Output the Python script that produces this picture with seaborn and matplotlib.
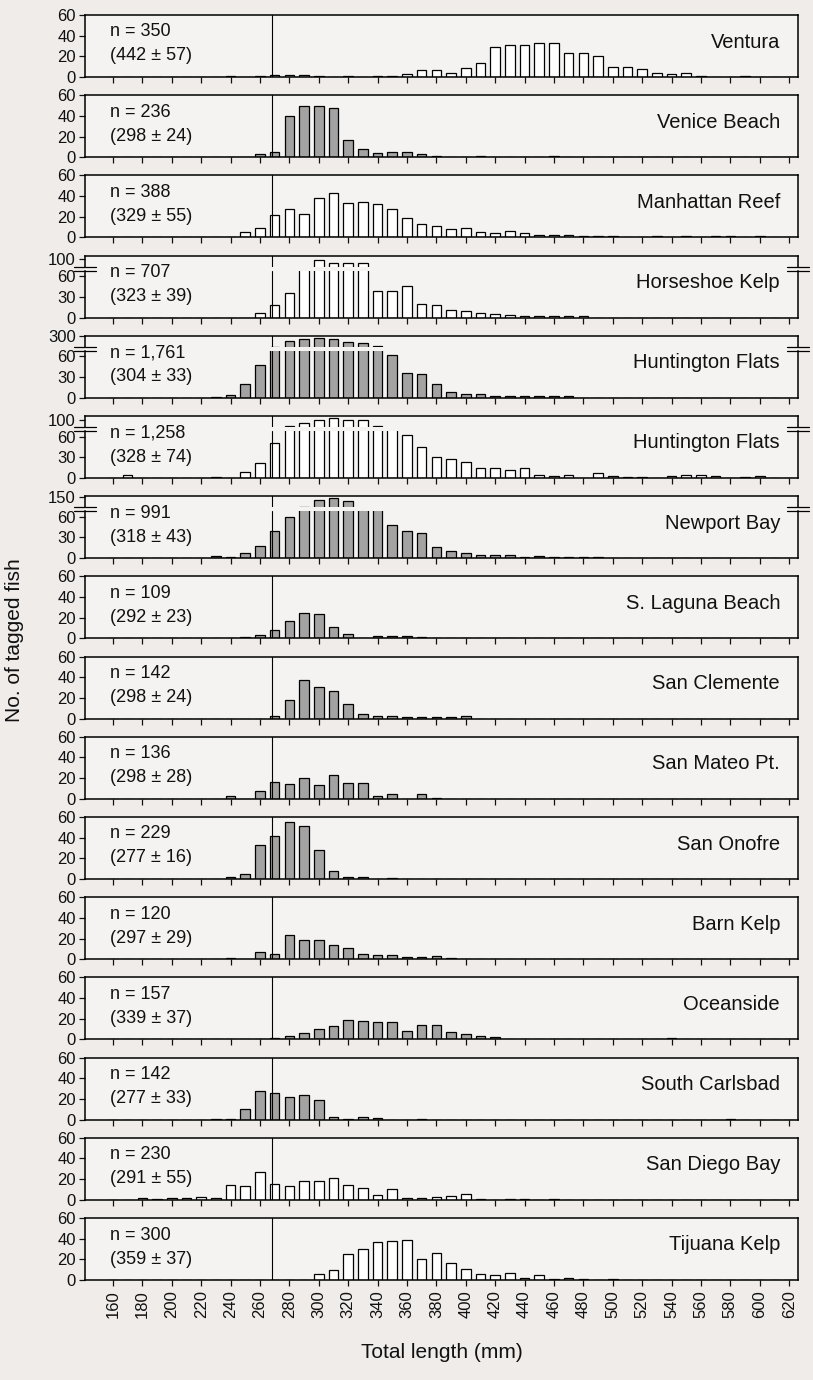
import numpy as np
import pandas as pd
import matplotlib
matplotlib.use("Agg")
import matplotlib.pyplot as plt
from matplotlib.lines import Line2D
from matplotlib.patches import Rectangle
import seaborn as sns

# ---------------- data (bin centres in mm, counts) ----------------
ventura_mm = [240, 260, 270, 280, 290, 300, 320, 340, 350, 360, 370, 380, 390, 400, 410,
              420, 430, 440, 450, 460, 470, 480, 490, 500, 510, 520, 530, 540, 550, 560, 590]
ventura_n = [1, 1, 2, 2, 2, 1, 1, 1, 1, 3, 7, 7, 4, 9, 14,
             29, 31, 31, 33, 33, 23, 23, 20, 10, 10, 8, 4, 3, 4, 1, 1]

venice_mm = [260, 270, 280, 290, 300, 310, 320, 330, 340, 350, 360, 370, 380, 410, 460]
venice_n = [3, 5, 40, 50, 50, 48, 17, 8, 4, 5, 5, 3, 1, 1, 1]

manhattan_mm = [250, 260, 270, 280, 290, 300, 310, 320, 330, 340, 350, 360, 370, 380, 390, 400,
                410, 420, 430, 440, 450, 460, 470, 480, 490, 500, 530, 550, 570, 580, 600]
manhattan_n = [5, 9, 22, 27, 23, 38, 43, 33, 34, 32, 27, 19, 13, 11, 8, 9,
               5, 4, 6, 4, 2, 2, 2, 1, 1, 1, 1, 1, 1, 1, 1]

horseshoe_mm = [260, 270, 280, 290, 300, 310, 320, 330, 340, 350, 360, 370, 380, 390, 400,
                410, 420, 430, 440, 450, 460, 470, 480]
horseshoe_n = [6, 18, 36, 75, 99, 94, 94, 94, 38, 38, 45, 20, 18, 11, 9,
               6, 5, 4, 3, 3, 2, 2, 2]

huntington1_mm = [230, 240, 250, 260, 270, 280, 290, 300, 310, 320, 330, 340, 350, 360, 370,
                  380, 390, 400, 410, 420, 430, 440, 450, 460, 470]
huntington1_n = [1, 4, 20, 47, 105, 200, 250, 265, 250, 185, 170, 108, 62, 36, 34,
                 20, 8, 6, 6, 3, 2, 2, 3, 2, 2]

huntington2_mm = [170, 230, 250, 260, 270, 280, 290, 300, 310, 320, 330, 340, 350, 360, 370,
                  380, 390, 400, 410, 420, 430, 440, 450, 460, 470, 490, 500, 510, 520,
                  540, 550, 560, 570, 590, 600]
huntington2_n = [5, 1, 8, 22, 50, 84, 92, 100, 106, 100, 100, 84, 75, 62, 45,
                 30, 27, 23, 15, 14, 12, 15, 4, 3, 4, 7, 3, 2, 1,
                 3, 4, 4, 3, 2, 3]

newport_mm = [220, 230, 240, 250, 260, 270, 280, 290, 300, 310, 320, 330, 340, 350, 360,
              370, 380, 390, 400, 410, 420, 430, 440, 450, 460, 470, 480, 490, 520]
newport_n = [1, 3, 2, 8, 18, 40, 60, 83, 127, 145, 121, 74, 72, 48, 40,
             36, 16, 11, 8, 4, 4, 4, 2, 3, 2, 2, 2, 2, 1]

slaguna_mm = [250, 260, 270, 280, 290, 300, 310, 320, 340, 350, 360, 370]
slaguna_n = [1, 3, 8, 17, 25, 24, 11, 4, 2, 2, 2, 1]

sanclemente_mm = [270, 280, 290, 300, 310, 320, 330, 340, 350, 360, 370, 380, 390, 400]
sanclemente_n = [3, 18, 37, 31, 27, 14, 4, 3, 3, 2, 2, 2, 2, 3]

sanmateo_mm = [240, 260, 270, 280, 290, 300, 310, 320, 330, 340, 350, 370, 380]
sanmateo_n = [3, 8, 16, 14, 20, 13, 23, 15, 15, 3, 5, 5, 1]

sanonofre_mm = [240, 250, 260, 270, 280, 290, 300, 310, 320, 330, 350]
sanonofre_n = [2, 5, 33, 42, 55, 51, 28, 8, 2, 2, 1]

barn_mm = [240, 260, 270, 280, 290, 300, 310, 320, 330, 340, 350, 360, 370, 380, 390]
barn_n = [1, 7, 5, 23, 19, 19, 14, 11, 5, 4, 4, 2, 2, 3, 1]

oceanside_mm = [270, 280, 290, 300, 310, 320, 330, 340, 350, 360, 370, 380, 390, 400, 410, 420, 540]
oceanside_n = [1, 3, 6, 10, 13, 19, 18, 17, 17, 8, 14, 14, 7, 5, 3, 2, 1]

scarlsbad_mm = [230, 240, 250, 260, 270, 280, 290, 300, 310, 320, 330, 340, 370, 580]
scarlsbad_n = [1, 1, 10, 28, 26, 22, 24, 19, 3, 1, 3, 2, 1, 1]

sandiego_mm = [180, 190, 200, 210, 220, 230, 240, 250, 260, 270, 280, 290, 300, 310, 320,
               330, 340, 350, 360, 370, 380, 390, 400, 410, 430, 440, 460]
sandiego_n = [2, 1, 2, 2, 3, 2, 14, 13, 27, 15, 13, 18, 18, 21, 14,
              11, 5, 10, 2, 2, 3, 4, 6, 1, 1, 1, 1]

tijuana_mm = [300, 310, 320, 330, 340, 350, 360, 370, 380, 390, 400, 410, 420, 430, 440,
              450, 460, 470, 480, 500]
tijuana_n = [6, 10, 25, 30, 37, 38, 39, 20, 26, 16, 11, 6, 5, 7, 2,
             5, 1, 2, 1, 1]

site_names = ["Ventura", "Venice Beach", "Manhattan Reef", "Horseshoe Kelp", "Huntington Flats",
              "Huntington Flats", "Newport Bay", "S. Laguna Beach", "San Clemente", "San Mateo Pt.",
              "San Onofre", "Barn Kelp", "Oceanside", "South Carlsbad", "San Diego Bay", "Tijuana Kelp"]
n_labels = ["n = 350", "n = 236", "n = 388", "n = 707", "n = 1,761", "n = 1,258", "n = 991",
            "n = 109", "n = 142", "n = 136", "n = 229", "n = 120", "n = 157", "n = 142",
            "n = 230", "n = 300"]
stat_labels = ["(442 ± 57)", "(298 ± 24)", "(329 ± 55)", "(323 ± 39)", "(304 ± 33)", "(328 ± 74)",
               "(318 ± 43)", "(292 ± 23)", "(298 ± 24)", "(298 ± 28)", "(277 ± 16)", "(297 ± 29)",
               "(339 ± 37)", "(277 ± 33)", "(291 ± 55)", "(359 ± 37)"]
site_lengths = [ventura_mm, venice_mm, manhattan_mm, horseshoe_mm, huntington1_mm, huntington2_mm,
                newport_mm, slaguna_mm, sanclemente_mm, sanmateo_mm, sanonofre_mm, barn_mm,
                oceanside_mm, scarlsbad_mm, sandiego_mm, tijuana_mm]
site_counts = [ventura_n, venice_n, manhattan_n, horseshoe_n, huntington1_n, huntington2_n,
               newport_n, slaguna_n, sanclemente_n, sanmateo_n, sanonofre_n, barn_n,
               oceanside_n, scarlsbad_n, sandiego_n, tijuana_n]
shaded = [False, True, False, False, True, False, True, True, True, True, True, True, True, True,
          False, False]

# broken y axes: panel index -> (upper limits, upper tick)
upper_limits = {3: (88, 106), 4: (100, 305), 5: (82, 110), 6: (80, 155)}
upper_ticks = {3: 100, 4: 300, 5: 100, 6: 150}

xtick_vals = list(range(160, 621, 20))
xtick_labels = [str(v) for v in xtick_vals]
size_limit_mm = 268

# ---------------- style ----------------
sns.set_theme(style="white")
plt.rcParams["font.family"] = ["Liberation Sans", "DejaVu Sans"]
plt.rcParams.update({"text.color": "#111111", "axes.labelcolor": "#111111",
                     "xtick.color": "#111111", "ytick.color": "#111111",
                     "axes.edgecolor": "black"})

W, H = 813, 1380
FIG_BG = "#efecea"
AX_BG = "#f5f3f1"
GREY = "#a3a3a3"
fig = plt.figure(figsize=(W / 100, H / 100), dpi=100, facecolor=FIG_BG)

AX_L, AX_R = 85, 798
TOP0, PERIOD, BOXH = 15, 80.2, 62
UP_H, GAP = 11, 4
XLIM = (141, 626)


def add_ax(top_px, h_px):
    return fig.add_axes([AX_L / W, 1 - (top_px + h_px) / H, (AX_R - AX_L) / W, h_px / H],
                        facecolor=AX_BG)


def draw(ax, lens, cnts, color):
    df = pd.DataFrame({"length": lens, "count": cnts})
    sns.histplot(data=df, x="length", weights="count", binwidth=10, binrange=(155, 625),
                 shrink=0.65, color=color, edgecolor="black", linewidth=0.9, alpha=1, ax=ax)
    ax.axvline(size_limit_mm, color="black", lw=0.8, zorder=3)
    ax.set_xlim(*XLIM)
    ax.set_xlabel("")
    ax.set_ylabel("")
    for s in ax.spines.values():
        s.set_color("black")
        s.set_linewidth(1.1)
    ax.tick_params(axis="y", direction="out", length=4.5, width=0.9, labelsize=12, pad=2,
                   left=True, right=False)


n_panels = len(site_names)
for i in range(n_panels):
    top = TOP0 + i * PERIOD
    color = GREY if shaded[i] else "white"
    last = i == n_panels - 1
    if i in upper_limits:
        # background for the break gap so it matches the panel interior
        fig.add_artist(Rectangle((AX_L / W, 1 - (top + UP_H + GAP) / H),
                                 (AX_R - AX_L) / W, GAP / H, transform=fig.transFigure,
                                 facecolor=AX_BG, edgecolor="none", zorder=-1))
        ax_up = add_ax(top, UP_H)
        draw(ax_up, site_lengths[i], site_counts[i], color)
        ax_up.set_ylim(*upper_limits[i])
        ax_up.set_yticks([upper_ticks[i]])
        ax_up.set_yticklabels([str(upper_ticks[i])])
        ax_up.set_xticks([])
        ax_up.spines["bottom"].set_visible(False)
        ax_lo = add_ax(top + UP_H + GAP, BOXH - UP_H - GAP)
        draw(ax_lo, site_lengths[i], site_counts[i], color)
        ax_lo.set_ylim(0, 68)
        ax_lo.set_yticks([0, 30, 60])
        ax_lo.set_yticklabels(["0", "30", "60"])
        ax_lo.spines["top"].set_visible(False)
        ax = ax_lo
        for yb in (top + UP_H, top + UP_H + GAP):
            for xc in (AX_L, AX_R):
                fig.add_artist(Line2D([(xc - 11) / W, (xc + 11) / W], [1 - yb / H] * 2,
                                      color="black", lw=0.9))
    else:
        ax = add_ax(top, BOXH)
        draw(ax, site_lengths[i], site_counts[i], color)
        ax.set_ylim(0, 60)
        ax.set_yticks([0, 20, 40, 60])
        ax.set_yticklabels(["0", "20", "40", "60"])
    ax.set_xticks(xtick_vals)
    ax.tick_params(axis="x", direction="out", length=4.5, width=0.9, bottom=True,
                   labelbottom=last, labelsize=12, pad=3)
    if last:
        ax.set_xticklabels(xtick_labels, rotation=90)
    else:
        ax.set_xticklabels([])

    fig.text((AX_L + 25) / W, 1 - (top + 17) / H, n_labels[i], fontsize=13,
             ha="left", va="center")
    fig.text((AX_L + 25) / W, 1 - (top + 41) / H, stat_labels[i], fontsize=13,
             ha="left", va="center")
    fig.text((AX_R - 18) / W, 1 - (top + 27) / H, site_names[i], fontsize=14.5,
             ha="right", va="center")

fig.text(15 / W, 1 - 640 / H, "No. of tagged fish", rotation=90, fontsize=15,
         ha="center", va="center")
fig.text((AX_L + AX_R) / 2 / W, 1 - 1352 / H, "Total length (mm)", fontsize=15,
         ha="center", va="center")

fig.savefig("out.png", dpi=100, facecolor=fig.get_facecolor())
